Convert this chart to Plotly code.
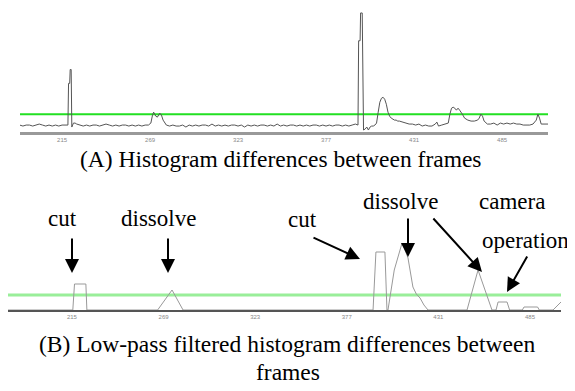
import plotly.graph_objects as go

# The page body has an 8px default margin, so the figure is 8px smaller than
# the window and positions are given in window pixels then shifted.
WIN_W, WIN_H = 575, 391
OFF = 8
W, H = WIN_W - OFF, WIN_H - OFF

# ---------- data ----------
# (A) raw histogram differences (frame, value)
frames_a = [189,191,193,195,197,199,201,203,205,207,209,211,213,215,217,
            218.6,219,219.7,220,220.6,221,222,223,224,226,228,230,232,234,236,238,240,
            242,244,246,248,250,252,254,256,258,260,262,264,266,268,
            269.5,270.5,271.2,272.5,273.5,275,276,277,278,279,
            281,283,285,287,289,291,293,295,297,299,301,303,305,307,309,311,313,315,317,319,
            321,323,325,327,329,331,333,335,337,339,341,343,345,347,349,351,353,355,357,359,
            361,363,365,367,369,371,373,375,377,379,381,383,385,387,389,391,393,395,
            396.6,397,397.9,398.2,399.2,399.6,400,401,402,403,404,405,406,407,408,409,410,411,412,
            413,414,415,416,417,418,419,420,421,422,424,426,428,430,432,434,436,438,440,442,444,
            445,446,448,450,452,453,454,455,456,457,458,459,460,461,462,463,464,466,468,470,471,
            472,473,474,475,476,478,480,482,484,486,488,490,492,494,496,498,500,502,504,506,507,
            508,509,510,512,513.2]
values_a = [7,6,7,7,6,7,8,7,6,7,6,7,6,7,7,
            7,49,49,63,63,5,9,9,8,7,6,7,6,7,7,6,7,
            8,7,6,7,6,7,7,6,7,6,7,6,7,7,
            9,17,20,16,15,19,17,12,9,7,
            6,7,6,6,7,5,7,6,7,6,7,7,6,8,6,7,6,7,6,7,
            7,6,7,5,7,6,7,6,7,7,6,7,6,8,6,7,6,7,7,6,
            7,6,7,6,7,7,6,7,6,7,6,7,7,6,7,6,7,8,
            7,92,92,120,120,2,2,3,5,2,5,6,6,7,9,20,30,34,35,
            33,28,20,16,14,13,12,12,11,11,10,9,8,8,7,8,6,7,6,6,8,
            10,6,7,8,9,18,24,25,24,22,24,22,20,17,14,13,12,11,11,12,14,
            18,16,11,9,8,8,9,7,9,8,9,8,9,8,8,7,7,7,8,12,18,
            14,8,8,8,8]
threshold_a = 18

# (B) low-pass filtered histogram differences (frame, value)
frames_b = [177.3,215.5,216.5,217.5,223.2,223.8,265.5,274,280.5,392.5,394.2,399.5,400.7,
            401.3,405,409.6,411,413.1,414.5,416,418,420.2,422.5,424.9,447.9,454.4,462.6,
            465,466.2,471.5,473,480.5,481.5,489.5,490.5,498.6,503.3]
values_b = [0,0,26,26,26,0,0,20,0,0,58,58,0,
            0,40,67,62,52,37,23,16,12,5,0,0,40,0,
            0,8,8,0,0,3,3,0,0,8]
threshold_b = 15

tick_frames = [215, 269, 323, 377, 431, 485]
tick_labels = ["215", "269", "323", "377", "431", "485"]

captions = [
    ("(A) Histogram differences between frames", 281, 159),
    ("(B) Low-pass filtered histogram differences between", 287, 344),
    ("frames", 288, 372),
]
labels = [
    ("cut", 62, 218), ("dissolve", 158, 218), ("cut", 302, 219),
    ("dissolve", 400, 201), ("camera", 512, 201), ("operation", 525, 240),
]
# arrows: (tail_x, tail_y, tip_x, tip_y) in window pixels
arrows = [
    (72, 237, 72, 273), (168, 237, 168, 273), (312, 237, 360, 259),
    (408, 217, 408, 257), (432, 217, 482, 272), (528, 255, 507, 292),
]

def px(x):
    return (x - OFF) / W

def py(y):
    return 1 - (y - OFF) / H

fig = go.Figure()

# top panel
xa_range = [189.2, 513.2]
fig.add_trace(go.Scatter(x=[xa_range[0], xa_range[1]], y=[threshold_a, threshold_a],
                         mode="lines", line=dict(color="#22e022", width=2),
                         xaxis="x", yaxis="y", hoverinfo="skip"))
fig.add_trace(go.Scatter(x=frames_a, y=values_a, mode="lines",
                         line=dict(color="#555555", width=1),
                         xaxis="x", yaxis="y"))

# bottom panel
xb_range = [177.3, 503.3]
fig.add_trace(go.Scatter(x=[xb_range[0], xb_range[1]], y=[threshold_b, threshold_b],
                         mode="lines", line=dict(color="#99ee99", width=3),
                         xaxis="x2", yaxis="y2", hoverinfo="skip"))
fig.add_trace(go.Scatter(x=frames_b, y=values_b, mode="lines",
                         line=dict(color="#999999", width=1),
                         xaxis="x2", yaxis="y2"))

tickfont = dict(size=6, color="#888888", family="Arial")

fig.update_layout(
    width=W, height=H, margin=dict(l=0, r=0, t=0, b=0),
    paper_bgcolor="white", plot_bgcolor="white", showlegend=False,
    xaxis=dict(domain=[px(20), px(548)], range=xa_range, anchor="y",
               tickvals=tick_frames, ticktext=tick_labels, tickfont=tickfont,
               ticks="", showgrid=False, zeroline=False,
               showline=True, linecolor="#999999", linewidth=3),
    yaxis=dict(domain=[py(132), py(7) if py(7) <= 1 else 1], range=[0, 125],
               visible=False, anchor="x"),
    xaxis2=dict(domain=[max(px(8), 0), px(561)], range=xb_range, anchor="y2",
                tickvals=tick_frames, ticktext=tick_labels, tickfont=tickfont,
                ticks="", showgrid=False, zeroline=False,
                showline=True, linecolor="#555555", linewidth=2),
    yaxis2=dict(domain=[py(310), py(235)], range=[0, 75], visible=False, anchor="x2"),
)

serif = "Liberation Serif, Times New Roman, serif"
for text, x, y in captions:
    fig.add_annotation(text=text, x=px(x), y=py(y), xref="paper", yref="paper",
                       showarrow=False, xanchor="center", yanchor="middle",
                       font=dict(family=serif, size=23.5, color="black"))
for text, x, y in labels:
    fig.add_annotation(text=text, x=px(x), y=py(y), xref="paper", yref="paper",
                       showarrow=False, xanchor="center", yanchor="middle",
                       font=dict(family=serif, size=23, color="black"))
for tx, ty, hx, hy in arrows:
    fig.add_annotation(text="", x=px(hx), y=py(hy), xref="paper", yref="paper",
                       ax=tx - hx, ay=ty - hy, showarrow=True,
                       arrowhead=2, arrowsize=1.4, arrowwidth=2, arrowcolor="black",
                       standoff=0)

fig.write_html("out.html")
